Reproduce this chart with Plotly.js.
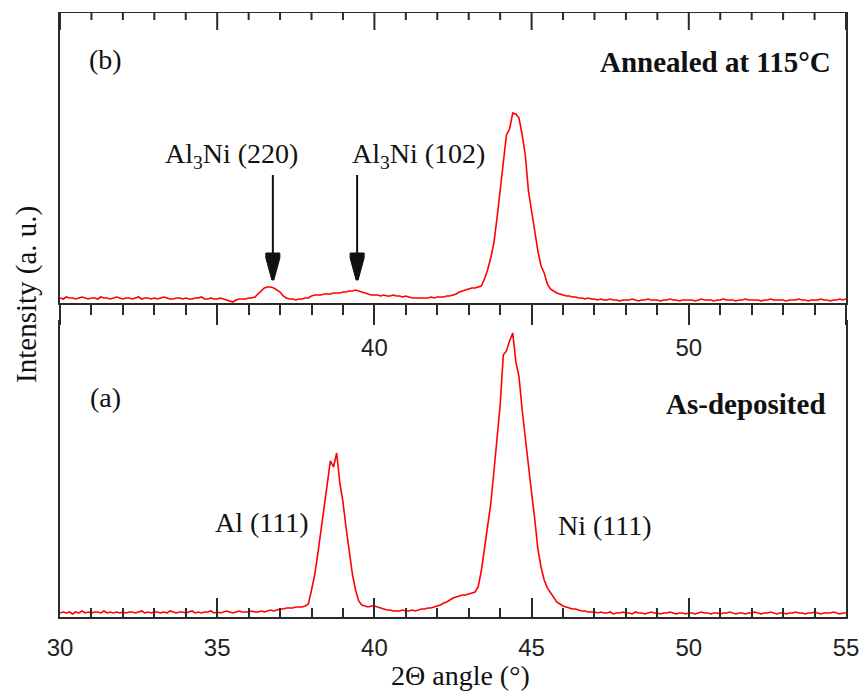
<!DOCTYPE html>
<html>
<head>
<meta charset="utf-8">
<script src="https://cdn.plot.ly/plotly-3.0.1.min.js"></script>
<style>html,body{margin:0;padding:0;background:#fff;}#chart{width:861px;height:696px;}</style>
</head>
<body>
<div id="chart"></div>
<script>
// 2-theta sampling: start and step (degrees)
const thetaStart = 30.0;
const thetaStep = 0.1;

// (b) Annealed at 115 C, intensity (a.u.), 30.0 .. 55.0 deg
const annealed = [
  5,4,6,5,5,4,5,6,5,4,
  5,5,4,6,5,5,4,5,6,5,
  4,5,5,4,5,6,4,5,5,4,
  5,4,5,6,5,4,4,5,5,4,
  5,4,4,5,5,6,4,4,5,4,
  4,5,4,3,2,1,3,4,4,4,
  5,5,6,9,12,15,16,16,15,13,
  11,7,5,4,4,3,4,4,5,5,
  7,8,8,8,9,9,9,10,10,10,
  11,11,12,12,13,12,11,10,9,8,
  8,8,7,8,7,7,8,7,7,6,
  7,6,5,5,5,5,5,5,6,5,
  6,6,6,7,7,8,9,11,12,13,
  14,15,15,16,17,24,33,45,60,85,
  112,143,168,174,190,189,185,168,148,112,
  92,70,52,37,30,19,14,12,10,9,
  8,7,7,6,6,5,5,4,5,4,
  4,3,4,3,3,4,3,3,2,3,
  3,3,4,3,2,3,3,4,3,3,
  3,2,3,3,4,3,3,2,3,3,
  3,3,2,3,4,3,3,3,2,3,
  3,4,3,3,3,2,3,3,4,3,
  3,3,3,2,3,3,4,3,3,3,
  3,2,3,3,3,4,3,3,2,3,
  3,3,4,3,3,2,3,3,4,3,
  4
];

// (a) As-deposited, intensity (a.u.), 30.0 .. 55.0 deg
const asDeposited = [
  4,5,4,5,3,5,4,6,4,5,
  4,5,5,4,6,4,5,4,5,4,
  5,4,5,5,4,5,6,4,5,4,
  5,5,4,5,4,6,5,4,5,5,
  4,5,6,4,5,4,5,5,6,4,
  5,4,5,6,5,4,5,6,5,5,
  5,6,5,5,6,5,6,7,6,7,
  8,8,9,9,9,10,10,10,11,13,
  27,42,63,86,112,135,156,150,164,134,
  115,89,66,43,27,16,12,11,10,11,
  11,10,9,8,7,7,6,6,6,7,
  6,6,7,6,7,8,8,9,9,10,
  11,12,14,15,17,19,20,21,22,22,
  23,24,25,30,46,68,90,113,145,178,
  212,262,266,276,284,255,240,207,178,155,
  124,98,68,50,37,29,24,19,15,13,
  11,10,9,8,8,7,6,6,5,5,
  5,4,5,4,4,5,3,4,4,5,
  4,4,3,5,4,4,3,4,5,4,
  4,3,4,4,5,4,3,4,4,3,
  4,4,3,4,5,4,4,3,4,4,
  3,4,4,5,4,3,4,4,3,4,
  4,5,4,3,4,4,5,4,3,4,
  4,3,4,4,5,4,4,3,4,4,
  5,4,3,4,4,4,5,4,3,4,
  4
];

const xRange = [30, 55];
const upperYRange = [0, 291];
const majorTicks = [30, 35, 40, 45, 50, 55];
const minorTicks = [31, 32, 33, 34, 36, 37, 38, 39, 41, 42, 43, 44, 46, 47, 48, 49, 51, 52, 53, 54];
const upperTickText = ['', '', '40', '', '50', ''];
const lowerTickText = ['30', '35', '40', '45', '50', '55'];

// peak markers (2-theta, intensity) on the annealed pattern
const markerTheta = [36.77, 39.45];
const markerLevel = [23, 23];

const axisColor = '#2b2b2b';
const serif = 'Liberation Serif, Times New Roman, serif';
const sans = 'Liberation Sans, Arial, sans-serif';

const traces = [
  { x0: thetaStart, dx: thetaStep, y: annealed, xaxis: 'x', yaxis: 'y', type: 'scatter', mode: 'lines',
    line: { color: '#ff0000', width: 1.6 }, hoverinfo: 'skip' },
  { x0: thetaStart, dx: thetaStep, y: asDeposited, xaxis: 'x2', yaxis: 'y2', type: 'scatter', mode: 'lines',
    line: { color: '#ff0000', width: 1.6 }, hoverinfo: 'skip' }
];

const txt = (text, x, y, opts) => Object.assign({
  text: text, x: x, y: y, xref: 'paper', yref: 'paper', showarrow: false,
  xanchor: 'center', yanchor: 'middle', font: { family: serif, size: 28, color: '#111' }
}, opts || {});

const annotations = [
  txt('(b)', 0.0585, 0.9223),
  txt('<b>Annealed at 115°C</b>', 0.9835, 0.9174, { xanchor: 'right', font: { family: serif, size: 29, color: '#111' } }),
  txt('Al<sub>3</sub>Ni (220)', 0.2176, 0.762),
  txt('Al<sub>3</sub>Ni (102)', 0.4555, 0.762),
  txt('(a)', 0.0585, 0.362),
  txt('<b>As-deposited</b>', 0.977, 0.352, { xanchor: 'right', font: { family: serif, size: 29, color: '#111' } }),
  txt('Al (111)', 0.257, 0.157),
  txt('Ni (111)', 0.693, 0.152),
  txt('Intensity (a. u.)', -0.042, 0.534, { textangle: -90, font: { family: serif, size: 29, color: '#111' } }),
  txt('2Θ angle (°)', 0.509, -0.0975)
];

const shapes = [];
// peak arrows
markerTheta.forEach((t, i) => {
  shapes.push({ type: 'line', xref: 'x', yref: 'y', xsizemode: 'pixel', ysizemode: 'pixel',
    xanchor: t, yanchor: markerLevel[i], x0: 0, x1: 0, y0: 20, y1: 105,
    line: { color: '#111', width: 2 } });
  shapes.push({ type: 'path', xref: 'x', yref: 'y', xsizemode: 'pixel', ysizemode: 'pixel',
    xanchor: t, yanchor: markerLevel[i], path: 'M-7,27 L7,27 L7,22 L1,0 L-1,0 L-7,22 Z',
    fillcolor: '#111', line: { color: '#111', width: 1 } });
});
// upper frame edge of panel (b) with inward ticks, placed through the x scale
shapes.push({ type: 'line', xref: 'x', yref: 'y', x0: xRange[0], x1: xRange[1],
  y0: upperYRange[1], y1: upperYRange[1], line: { color: axisColor, width: 2 } });
const frameTick = (v, len) => ({ type: 'line', xref: 'x', yref: 'y', ysizemode: 'pixel',
  yanchor: upperYRange[1], x0: v, x1: v, y0: 0, y1: -len, line: { color: axisColor, width: 2 } });
majorTicks.forEach(v => shapes.push(frameTick(v, 18)));
minorTicks.forEach(v => shapes.push(frameTick(v, 8)));

const layout = {
  width: 861, height: 696,
  margin: { l: 60, r: 15, t: 12, b: 79 },
  paper_bgcolor: '#fff', plot_bgcolor: '#fff',
  showlegend: false,
  xaxis: {
    anchor: 'y', range: xRange, showline: true, linecolor: axisColor, linewidth: 2,
    ticks: 'outside', ticklen: 20, tickwidth: 2, tickcolor: axisColor,
    tickmode: 'array', tickvals: majorTicks, ticktext: upperTickText,
    tickfont: { family: sans, size: 24, color: '#222' }, ticklabelstandoff: 2,
    minor: { dtick: 1, tick0: 30, ticks: 'outside', ticklen: 10, tickwidth: 2, tickcolor: axisColor, showgrid: false },
    showgrid: false, zeroline: false
  },
  yaxis: {
    anchor: 'x', domain: [0.519, 1], range: upperYRange, showline: true, mirror: true,
    linecolor: axisColor, linewidth: 2, ticks: '', showticklabels: false, showgrid: false, zeroline: false
  },
  xaxis2: {
    anchor: 'y2', range: xRange, showline: true, linecolor: axisColor, linewidth: 2,
    ticks: 'inside', ticklen: 19, tickwidth: 2, tickcolor: axisColor,
    tickmode: 'array', tickvals: majorTicks, ticktext: lowerTickText,
    tickfont: { family: sans, size: 24, color: '#222' }, ticklabelstandoff: 8,
    minor: { dtick: 1, tick0: 30, ticks: 'inside', ticklen: 9, tickwidth: 2, tickcolor: axisColor, showgrid: false },
    showgrid: false, zeroline: false
  },
  yaxis2: {
    anchor: 'x2', domain: [0, 0.491], range: [0, 297], showline: true, mirror: true,
    linecolor: axisColor, linewidth: 2, ticks: '', showticklabels: false, showgrid: false, zeroline: false
  },
  annotations: annotations,
  shapes: shapes
};

Plotly.newPlot('chart', traces, layout, { staticPlot: true, displayModeBar: false });
</script>
</body>
</html>
